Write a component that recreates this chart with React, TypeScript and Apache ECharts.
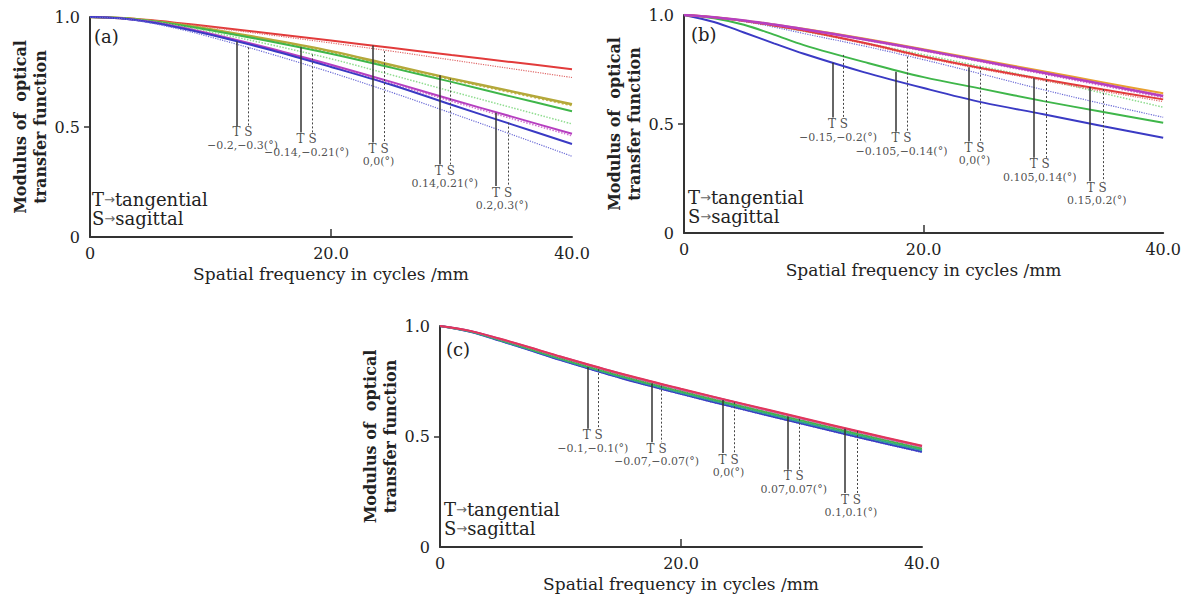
import React, { useEffect, useRef } from "react";
import * as echarts from "echarts";

// spatial frequency sample points (cycles/mm)
const XS = [0, 2.5, 5, 7.5, 10, 15, 20, 25, 30, 35, 40];
const X_TICKS = [0, 20, 40];
const Y_TICKS = [0, 0.5, 1];

// ---------- panel (a) ----------
const aRedT = [1, 0.996, 0.986, 0.972, 0.957, 0.925, 0.893, 0.86, 0.827, 0.795, 0.763];
const aRedS = [1, 0.996, 0.985, 0.97, 0.953, 0.918, 0.882, 0.845, 0.805, 0.765, 0.725];
const aOlvT = [1, 0.995, 0.983, 0.965, 0.944, 0.897, 0.845, 0.782, 0.72, 0.662, 0.603];
const aOlvS = [1, 0.995, 0.982, 0.964, 0.942, 0.894, 0.841, 0.778, 0.716, 0.657, 0.598];
const aGrnT = [1, 0.995, 0.982, 0.963, 0.94, 0.889, 0.833, 0.77, 0.705, 0.638, 0.572];
const aGrnS = [1, 0.995, 0.98, 0.958, 0.932, 0.874, 0.81, 0.737, 0.662, 0.588, 0.514];
const aMagT = [1, 0.994, 0.978, 0.953, 0.924, 0.857, 0.783, 0.705, 0.625, 0.547, 0.469];
const aMagS = [1, 0.994, 0.977, 0.951, 0.921, 0.852, 0.777, 0.698, 0.617, 0.538, 0.46];
const aBluT = [1, 0.994, 0.976, 0.95, 0.919, 0.85, 0.773, 0.692, 0.601, 0.512, 0.423];
const aBluS = [1, 0.993, 0.973, 0.944, 0.909, 0.832, 0.748, 0.658, 0.563, 0.466, 0.367];

const annoALabel = ["\u22120.2,\u22120.3(°)", "\u22120.14,\u22120.21(°)", "0,0(°)", "0.14,0.21(°)", "0.2,0.3(°)"];
const annoAXT = [12.2, 17.5, 23.5, 29.0, 33.7];
const annoAXS = [13.1, 18.45, 24.4, 29.9, 34.7];
const annoATopT = [0.889, 0.862, 0.87, 0.735, 0.565];
const annoATopS = [0.862, 0.83, 0.845, 0.72, 0.52];
const annoABottom = [0.505, 0.475, 0.43, 0.33, 0.232];

// ---------- panel (b) ----------
const bOrgT = [1, 0.99, 0.975, 0.957, 0.937, 0.892, 0.843, 0.793, 0.742, 0.691, 0.641];
const bOrgS = [1, 0.99, 0.974, 0.955, 0.934, 0.887, 0.837, 0.786, 0.734, 0.683, 0.632];
const bMagT = [1, 0.99, 0.975, 0.956, 0.935, 0.889, 0.839, 0.788, 0.735, 0.682, 0.628];
const bMagS = [1, 0.99, 0.974, 0.955, 0.933, 0.886, 0.835, 0.783, 0.729, 0.675, 0.621];
const bRedT = [1, 0.99, 0.973, 0.952, 0.929, 0.873, 0.81, 0.755, 0.705, 0.658, 0.613];
const bRedS = [1, 0.99, 0.972, 0.95, 0.926, 0.868, 0.805, 0.75, 0.699, 0.65, 0.603];
const bGrnS = [1, 0.99, 0.972, 0.95, 0.925, 0.873, 0.818, 0.762, 0.705, 0.641, 0.577];
const bBluS = [1, 0.99, 0.97, 0.945, 0.915, 0.858, 0.795, 0.727, 0.657, 0.592, 0.531];
const bGrnT = [1, 0.985, 0.955, 0.91, 0.862, 0.785, 0.715, 0.66, 0.605, 0.555, 0.506];
const bBluT = [1, 0.968, 0.92, 0.87, 0.822, 0.738, 0.665, 0.598, 0.545, 0.49, 0.437];

const annoBLabel = ["\u22120.15,\u22120.2(°)", "\u22120.105,\u22120.14(°)", "0,0(°)", "0.105,0.14(°)", "0.15,0.2(°)"];
const annoBXT = [12.4, 17.7, 23.8, 29.2, 33.9];
const annoBXS = [13.3, 18.6, 24.7, 30.2, 35.0];
const annoBTopT = [0.781, 0.74, 0.76, 0.71, 0.67];
const annoBTopS = [0.817, 0.809, 0.763, 0.72, 0.66];
const annoBBottom = [0.53, 0.465, 0.42, 0.345, 0.237];

// ---------- panel (c) ----------
const cRedT = [1, 0.978, 0.942, 0.903, 0.862, 0.785, 0.716, 0.65, 0.585, 0.52, 0.458];
const cMagT = [1, 0.978, 0.941, 0.902, 0.861, 0.784, 0.714, 0.648, 0.583, 0.518, 0.456];
const cRedS = [1, 0.977, 0.94, 0.9, 0.859, 0.781, 0.711, 0.645, 0.58, 0.515, 0.453];
const cMagS = [1, 0.977, 0.939, 0.899, 0.857, 0.779, 0.709, 0.643, 0.578, 0.513, 0.451];
const cGrnT = [1, 0.976, 0.937, 0.896, 0.854, 0.775, 0.705, 0.638, 0.573, 0.508, 0.446];
const cGrnS = [1, 0.976, 0.936, 0.895, 0.852, 0.773, 0.702, 0.635, 0.57, 0.505, 0.443];
const cTealT = [1, 0.975, 0.935, 0.893, 0.85, 0.77, 0.699, 0.632, 0.566, 0.501, 0.439];
const cTealS = [1, 0.975, 0.934, 0.892, 0.848, 0.768, 0.696, 0.629, 0.563, 0.498, 0.436];
const cBluT = [1, 0.974, 0.933, 0.89, 0.846, 0.765, 0.693, 0.625, 0.559, 0.493, 0.431];
const cBluS = [1, 0.974, 0.932, 0.889, 0.845, 0.764, 0.691, 0.623, 0.557, 0.491, 0.428];

const annoCLabel = ["\u22120.1,\u22120.1(°)", "\u22120.07,\u22120.07(°)", "0,0(°)", "0.07,0.07(°)", "0.1,0.1(°)"];
const annoCXT = [12.25, 17.55, 23.5, 28.9, 33.6];
const annoCXS = [13.1, 18.4, 24.4, 29.8, 34.6];
const annoCTopT = [0.815, 0.74, 0.665, 0.59, 0.535];
const annoCTopS = [0.805, 0.73, 0.655, 0.58, 0.525];
const annoCBottom = [0.535, 0.474, 0.425, 0.35, 0.244];

const FONT = "DejaVu Serif";
const INK = "#222";

function curve(g: number, data: number[], color: string, dotted: boolean, width?: number) {
  return {
    type: "line",
    xAxisIndex: g,
    yAxisIndex: g,
    data: XS.map((x, i) => [x, data[i]]),
    smooth: 0.35,
    symbol: "none",
    silent: true,
    lineStyle: { color, width: width ?? (dotted ? 1.2 : 2), type: dotted ? "dotted" : "solid" },
    z: 2,
  };
}

function annotations(g: number, labels: string[], xt: number[], xs: number[], topT: number[], topS: number[], bottom: number[]) {
  const lines: any[] = [];
  labels.forEach((_, i) => {
    lines.push([
      { coord: [xt[i], topT[i]], lineStyle: { color: "#333", width: 1.5, type: "solid" } },
      { coord: [xt[i], bottom[i]] },
    ]);
    lines.push([
      { coord: [xs[i], topS[i]], lineStyle: { color: "#444", width: 1, type: [2, 2] } },
      { coord: [xs[i], bottom[i]] },
    ]);
  });
  return {
    type: "scatter",
    xAxisIndex: g,
    yAxisIndex: g,
    symbolSize: 0.1,
    itemStyle: { color: INK },
    silent: true,
    z: 5,
    data: labels.map((l, i) => [(xt[i] + xs[i]) / 2, bottom[i], l]),
    label: {
      show: true,
      position: "bottom",
      distance: 0,
      color: INK,
      textBorderWidth: 0,
      formatter: (p: any) => `{ts|T S}\n{f|${p.data[2]}}`,
      rich: {
        ts: { fontFamily: FONT, fontSize: 12, lineHeight: 13, color: INK },
        f: { fontFamily: FONT, fontSize: 11, lineHeight: 13, color: INK },
      },
    },
    markLine: {
      silent: true,
      symbol: ["none", "none"],
      label: { show: false },
      data: lines,
    },
  };
}

function xAxis(g: number) {
  return {
    type: "value",
    gridIndex: g,
    min: 0,
    max: 40,
    interval: 20,
    name: "Spatial frequency in cycles /mm",
    nameLocation: "middle",
    nameGap: 28,
    nameTextStyle: { fontFamily: FONT, fontSize: 17, color: INK },
    axisLine: { show: true, onZero: false, lineStyle: { color: "#333", width: 2 } },
    axisTick: { show: true, inside: true, length: 8, customValues: [20], lineStyle: { color: "#333", width: 1.5 } },
    axisLabel: {
      fontFamily: FONT,
      fontSize: 16,
      color: INK,
      margin: 8,
      customValues: X_TICKS,
      formatter: (v: number) => (v === 0 ? "0" : v.toFixed(1)),
    },
    splitLine: { show: false },
  };
}

function yAxis(g: number) {
  return {
    type: "value",
    gridIndex: g,
    min: 0,
    max: 1,
    interval: 0.5,
    name: "Modulus of  optical\ntransfer function",
    nameLocation: "middle",
    nameGap: 36,
    nameRotate: 90,
    nameTextStyle: { fontFamily: FONT, fontSize: 16, color: INK, lineHeight: 20, fontWeight: "bold" },
    axisLine: { show: true, onZero: false, lineStyle: { color: "#333", width: 2 } },
    axisTick: { show: true, length: 6, customValues: [0.5], lineStyle: { color: "#333", width: 1.5 } },
    axisLabel: {
      fontFamily: FONT,
      fontSize: 16,
      color: INK,
      margin: 10,
      customValues: Y_TICKS,
      formatter: (v: number) => (v === 0 ? "0" : v.toFixed(1)),
    },
    splitLine: { show: false },
  };
}

function legendText(left: number, top: number) {
  return {
    type: "text",
    left,
    top,
    style: {
      text: "{l|T}{ar|\u2192}{l|tangential}\n{l|S}{ar|\u2192}{l|sagittal}",
      rich: {
        l: { fontFamily: FONT, fontSize: 18, lineHeight: 19, fill: INK },
        ar: { fontFamily: "DejaVu Sans", fontSize: 13, lineHeight: 19, fill: "#666" },
      },
    },
  };
}

function panelLabel(text: string, left: number, top: number) {
  return { type: "text", left, top, style: { text, fontFamily: FONT, fontSize: 18, fill: INK } };
}

export default function App() {
  const ref = useRef<HTMLDivElement>(null);
  useEffect(() => {
    if (!ref.current) return;
    const chart = echarts.init(ref.current, undefined, { renderer: "svg" });
    const option: any = {
      animation: false,
      backgroundColor: "#fff",
      grid: [
        { left: 90, top: 17, width: 482, height: 220 },
        { left: 684, top: 15, width: 480, height: 218 },
        { left: 440, top: 326, width: 482, height: 221 },
      ],
      xAxis: [xAxis(0), xAxis(1), xAxis(2)],
      yAxis: [yAxis(0), yAxis(1), yAxis(2)],
      graphic: [
        panelLabel("(a)", 94, 27),
        panelLabel("(b)", 691, 25),
        panelLabel("(c)", 446, 340),
        legendText(92, 190),
        legendText(688, 188),
        legendText(444, 500),
      ],
      series: [
        curve(0, aRedT, "#e23b3b", false),
        curve(0, aRedS, "#e06a6a", true),
        curve(0, aOlvS, "#c9b94a", true, 2),
        curve(0, aOlvT, "#b4a83a", false, 2.5),
        curve(0, aGrnT, "#3fb64a", false),
        curve(0, aGrnS, "#8fdc8f", true, 1.5),
        curve(0, aMagS, "#d070d0", true, 1.5),
        curve(0, aMagT, "#b63fc0", false),
        curve(0, aBluT, "#3a3ac4", false),
        curve(0, aBluS, "#6a6ad6", true),
        annotations(0, annoALabel, annoAXT, annoAXS, annoATopT, annoATopS, annoABottom),

        curve(1, bBluT, "#3a3ac4", false),
        curve(1, bGrnT, "#3fb64a", false),
        curve(1, bBluS, "#6a6ad6", true),
        curve(1, bGrnS, "#8fdc8f", true, 1.5),
        curve(1, bRedS, "#e06a6a", true),
        curve(1, bRedT, "#e23b3b", false),
        curve(1, bOrgS, "#eab060", true),
        curve(1, bOrgT, "#e8a030", false),
        curve(1, bMagS, "#d070d0", true, 1.5),
        curve(1, bMagT, "#b63fc0", false, 2.5),
        annotations(1, annoBLabel, annoBXT, annoBXS, annoBTopT, annoBTopS, annoBBottom),

        curve(2, cBluS, "#4a4ad0", true),
        curve(2, cBluT, "#3a3ac4", false),
        curve(2, cTealS, "#3aa0a0", true),
        curve(2, cTealT, "#2e9a9a", false),
        curve(2, cGrnS, "#6ccf6c", true),
        curve(2, cGrnT, "#3fb64a", false),
        curve(2, cMagS, "#d070d0", true),
        curve(2, cMagT, "#b63fc0", false),
        curve(2, cRedS, "#e06a6a", true),
        curve(2, cRedT, "#e2365a", false),
        annotations(2, annoCLabel, annoCXT, annoCXS, annoCTopT, annoCTopS, annoCBottom),
      ],
    };
    chart.setOption(option);
    return () => chart.dispose();
  }, []);
  return (
    <div
      ref={ref}
      style={{ position: "absolute", left: 0, top: 0, width: 1184, height: 597 }}
    />
  );
}
